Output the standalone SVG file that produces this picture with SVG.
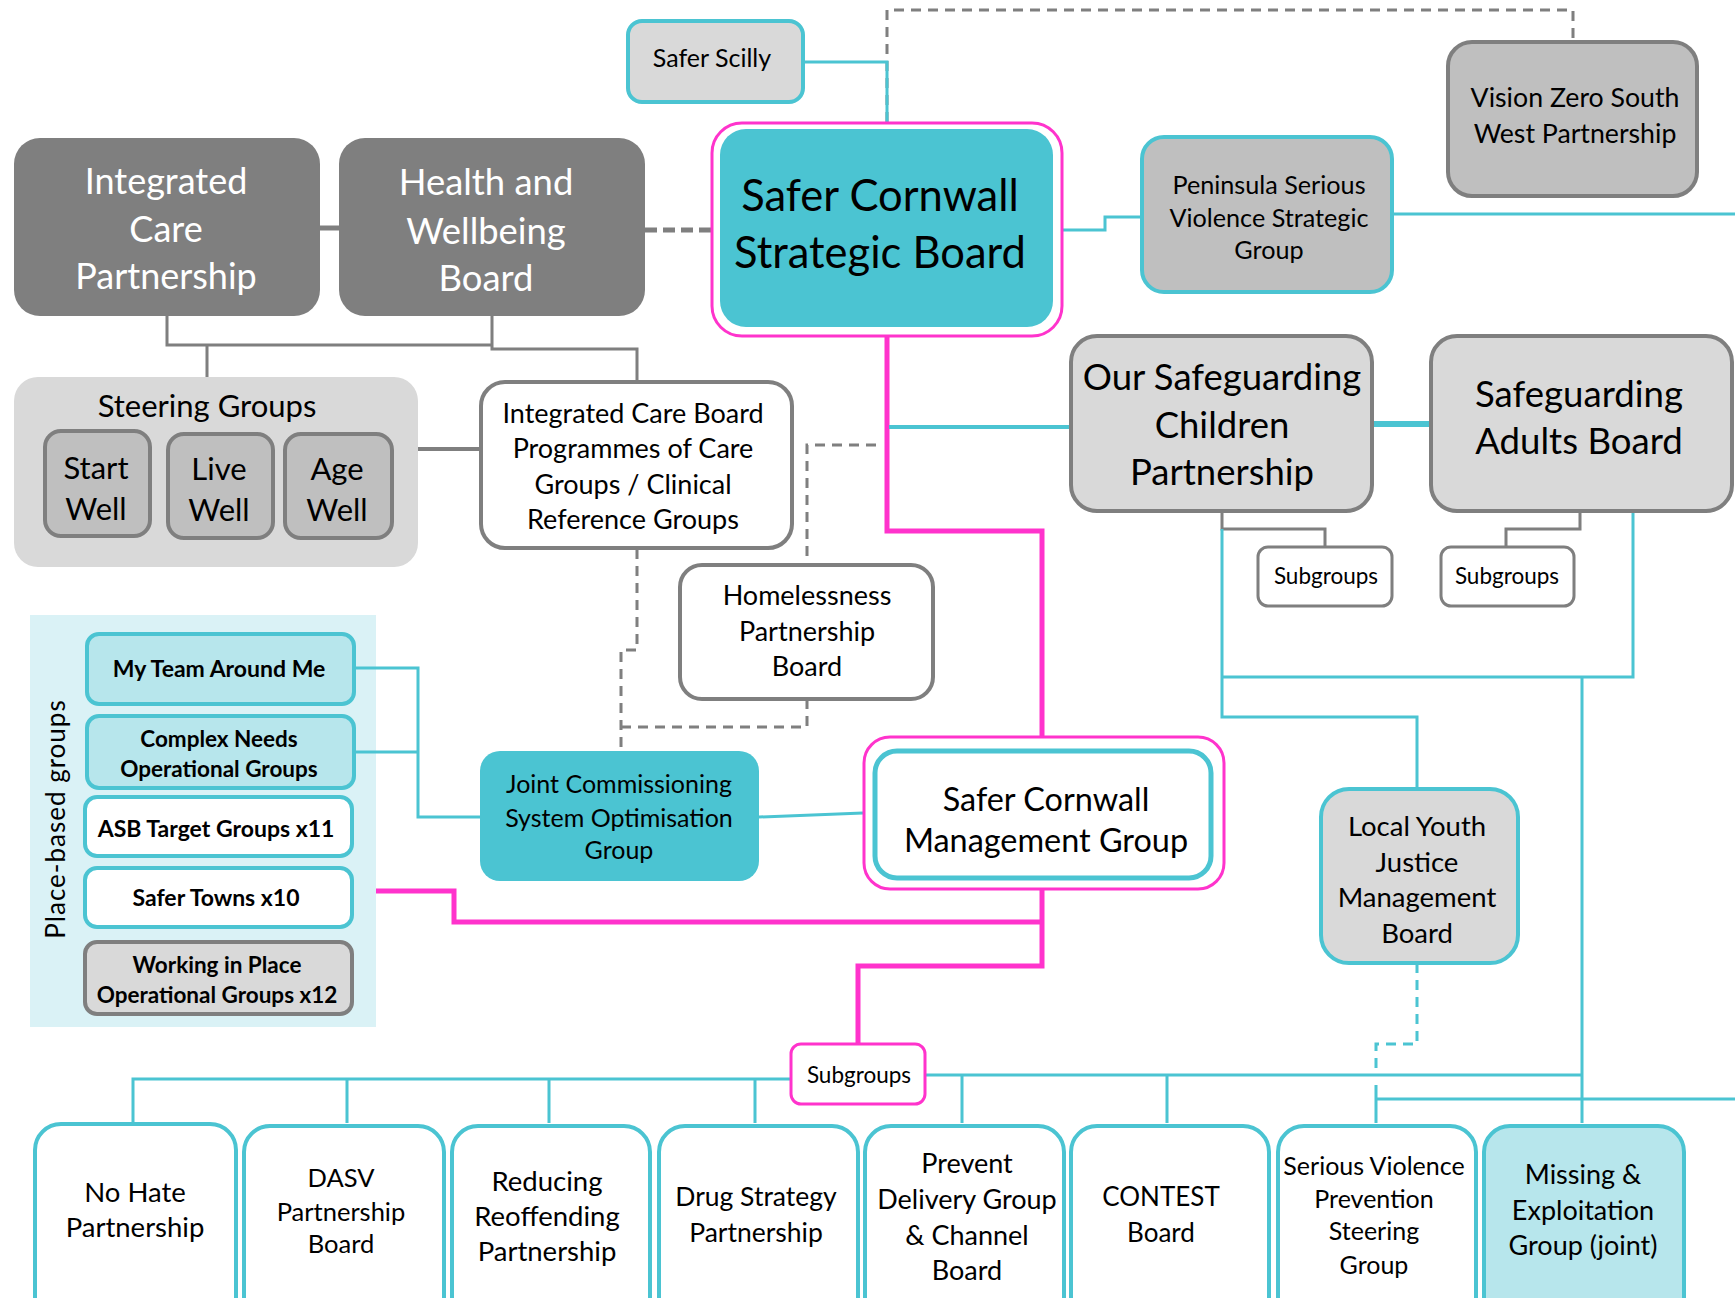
<svg xmlns="http://www.w3.org/2000/svg" width="1735" height="1298" viewBox="0 0 1735 1298">
<style>
text{font-family:Lato,"Open Sans","Liberation Sans",sans-serif;text-anchor:middle;dominant-baseline:central;fill:#000}
.w{fill:#fff}
.b{font-weight:bold}
.teal{stroke:#4bc4d2}
.grey{stroke:#7f7f7f}
.c{fill:none;stroke:#4bc4d2;stroke-width:3}
.cp{fill:none;stroke:#ff33cc;stroke-width:5}
.cg{fill:none;stroke:#7f7f7f;stroke-width:3}
.dg{fill:none;stroke:#7f7f7f;stroke-width:3;stroke-dasharray:10 7}
.dt{fill:none;stroke:#4bc4d2;stroke-width:3;stroke-dasharray:10 7}
</style>
<rect width="1735" height="1298" fill="#fff"/>

<g id="place-based-groups">
  <rect x="30" y="615" width="346" height="412" fill="#daf2f6"/>
  <text x="55" y="819" font-size="26" transform="rotate(-90 55 819)" letter-spacing="1">Place-based groups</text>
</g>

<g id="connectors">
  <path class="dg" d="M887 122 V10 H1573 V41"/>
  <path class="c" d="M804 62 H887 V122"/>
  <path d="M645 230 H711" fill="none" stroke="#7f7f7f" stroke-width="5" stroke-dasharray="12 6"/>
  <path d="M320 228 H339" fill="none" stroke="#7f7f7f" stroke-width="5"/>
  <path class="cg" d="M167 316 V345 H492 M492 316 V349 H637 V381 M207 345 V377"/>
  <path d="M418 449 H480" fill="none" stroke="#7f7f7f" stroke-width="4"/>
  <path class="dg" d="M637 549 V650 H621 V751 M807 699 V727 H621 M876 445 H807 V564"/>
  <path class="c" d="M354 668 H418 V817 H480 M354 752 H418"/>
  <path class="c" d="M759 817 L863 813"/>
  <path class="cp" d="M887 337 V531 H1042 V736"/>
  <path class="cp" d="M1042 890 V966 H858 V1043"/>
  <path class="cp" d="M376 891 H454 V922 H1042"/>
  <path d="M889 427 H1070" fill="none" stroke="#4bc4d2" stroke-width="4"/>
  <path d="M1372 424 H1430" fill="none" stroke="#4bc4d2" stroke-width="6"/>
  <path class="c" d="M1062 230 H1105 V217 H1141"/>
  <path class="c" d="M1392 214 H1735"/>
  <path class="cg" d="M1222 511 V529 H1325 V546 M1580 511 V529 H1506 V546"/>
  <path class="c" d="M1222 529 V717 H1417 V788 M1222 677 H1633 V508 M1582 677 V1123"/>
  <path class="c" d="M925 1075 H1582 M790 1079 H133 V1123"/>
  <path class="c" d="M347 1079 V1123 M549 1079 V1123 M755 1079 V1123 M962 1075 V1123 M1167 1075 V1123"/>
  <path class="dt" d="M1417 963 V1044 H1376 V1075"/>
  <path class="c" d="M1376 1085 V1123 M1376 1099 H1735"/>
</g>

<g id="safer-scilly">
  <rect x="628" y="21" width="175" height="81" rx="14" fill="#d9d9d9" class="teal" stroke-width="4"/>
  <text x="712" y="57" font-size="25">Safer Scilly</text>
</g>

<g id="vision-zero">
  <rect x="1448" y="42" width="249" height="154" rx="24" fill="#bfbfbf" class="grey" stroke-width="4"/>
  <text x="1575" y="97" font-size="26.7">Vision Zero South</text>
  <text x="1575" y="133" font-size="26.7">West Partnership</text>
</g>

<g id="icp">
  <rect x="14" y="138" width="306" height="178" rx="26" fill="#7f7f7f"/>
  <text class="w" x="166" y="180" font-size="36">Integrated</text>
  <text class="w" x="166" y="228" font-size="36">Care</text>
  <text class="w" x="166" y="275" font-size="36">Partnership</text>
</g>

<g id="hwb">
  <rect x="339" y="138" width="306" height="178" rx="26" fill="#7f7f7f"/>
  <text class="w" x="486" y="181" font-size="36.4">Health and</text>
  <text class="w" x="486" y="230" font-size="36.4">Wellbeing</text>
  <text class="w" x="486" y="277" font-size="36.4">Board</text>
</g>

<g id="strategic-board">
  <rect x="712" y="123" width="350" height="213" rx="30" fill="#fff" stroke="#ff33cc" stroke-width="3"/>
  <rect x="720" y="129" width="333" height="198" rx="26" fill="#4bc4d2"/>
  <text x="880" y="194" font-size="43.5">Safer Cornwall</text>
  <text x="880" y="251" font-size="43.5">Strategic Board</text>
</g>

<g id="peninsula">
  <rect x="1142" y="137" width="250" height="155" rx="22" fill="#bfbfbf" class="teal" stroke-width="4"/>
  <text x="1269" y="184" font-size="25.2">Peninsula Serious</text>
  <text x="1269" y="217" font-size="25.2">Violence Strategic</text>
  <text x="1269" y="249" font-size="25.2">Group</text>
</g>

<g id="oscp">
  <rect x="1071" y="336" width="301" height="175" rx="26" fill="#d9d9d9" class="grey" stroke-width="4"/>
  <text x="1222" y="376" font-size="36.5">Our Safeguarding</text>
  <text x="1222" y="424" font-size="36.5">Children</text>
  <text x="1222" y="471" font-size="36.5">Partnership</text>
</g>

<g id="sab">
  <rect x="1431" y="336" width="301" height="175" rx="26" fill="#d9d9d9" class="grey" stroke-width="4"/>
  <text x="1579" y="393" font-size="36.6">Safeguarding</text>
  <text x="1579" y="440" font-size="36.6">Adults Board</text>
</g>

<g id="steering-groups">
  <rect x="14" y="377" width="404" height="190" rx="24" fill="#d9d9d9"/>
  <text x="207" y="405" font-size="31">Steering Groups</text>
</g>
<g id="start-well">
  <rect x="45" y="431" width="105" height="105" rx="16" fill="#bfbfbf" class="grey" stroke-width="4"/>
  <text x="96" y="467" font-size="31">Start</text>
  <text x="96" y="508" font-size="31">Well</text>
</g>
<g id="live-well">
  <rect x="168" y="434" width="105" height="104" rx="16" fill="#bfbfbf" class="grey" stroke-width="4"/>
  <text x="219" y="468" font-size="31">Live</text>
  <text x="219" y="509" font-size="31">Well</text>
</g>
<g id="age-well">
  <rect x="285" y="434" width="107" height="104" rx="16" fill="#bfbfbf" class="grey" stroke-width="4"/>
  <text x="337" y="468" font-size="31">Age</text>
  <text x="337" y="509" font-size="31">Well</text>
</g>

<g id="icb">
  <rect x="481" y="382" width="311" height="166" rx="24" fill="#fff" class="grey" stroke-width="4"/>
  <text x="633" y="412" font-size="27">Integrated Care Board</text>
  <text x="633" y="447" font-size="27">Programmes of Care</text>
  <text x="633" y="483" font-size="27">Groups / Clinical</text>
  <text x="633" y="518" font-size="27">Reference Groups</text>
</g>

<g id="homelessness">
  <rect x="680" y="565" width="253" height="134" rx="22" fill="#fff" class="grey" stroke-width="4"/>
  <text x="807" y="594" font-size="27">Homelessness</text>
  <text x="807" y="630" font-size="27">Partnership</text>
  <text x="807" y="665" font-size="27">Board</text>
</g>

<g id="oscp-subgroups">
  <rect x="1258" y="547" width="134" height="59" rx="10" fill="#fff" class="grey" stroke-width="3"/>
  <text x="1326" y="575" font-size="22.5">Subgroups</text>
</g>
<g id="sab-subgroups">
  <rect x="1441" y="547" width="133" height="59" rx="10" fill="#fff" class="grey" stroke-width="3"/>
  <text x="1507" y="575" font-size="22.5">Subgroups</text>
</g>

<g id="my-team">
  <rect x="87" y="634" width="267" height="70" rx="12" fill="#b7e6ec" class="teal" stroke-width="4"/>
  <text class="b" x="219" y="668" font-size="23">My Team Around Me</text>
</g>
<g id="complex-needs">
  <rect x="87" y="716" width="267" height="72" rx="12" fill="#b7e6ec" class="teal" stroke-width="4"/>
  <text class="b" x="219" y="738" font-size="22.5">Complex Needs</text>
  <text class="b" x="219" y="768" font-size="22.5">Operational Groups</text>
</g>
<g id="asb">
  <rect x="85" y="797" width="267" height="59" rx="12" fill="#fff" class="teal" stroke-width="4"/>
  <text class="b" x="216" y="828" font-size="23">ASB Target Groups x11</text>
</g>
<g id="safer-towns">
  <rect x="85" y="868" width="267" height="59" rx="12" fill="#fff" class="teal" stroke-width="4"/>
  <text class="b" x="216" y="897" font-size="23">Safer Towns x10</text>
</g>
<g id="working-in-place">
  <rect x="85" y="942" width="267" height="72" rx="12" fill="#d9d9d9" class="grey" stroke-width="4"/>
  <text class="b" x="217" y="964" font-size="22.5">Working in Place</text>
  <text class="b" x="217" y="994" font-size="22.5">Operational Groups x12</text>
</g>

<g id="jcsog">
  <rect x="480" y="751" width="279" height="130" rx="20" fill="#4bc4d2"/>
  <text x="619" y="783" font-size="25">Joint Commissioning</text>
  <text x="619" y="817" font-size="25">System Optimisation</text>
  <text x="619" y="849" font-size="25">Group</text>
</g>

<g id="scmg">
  <rect x="864" y="737" width="360" height="152" rx="26" fill="#fff" stroke="#ff33cc" stroke-width="3"/>
  <rect x="875" y="751" width="336" height="127" rx="22" fill="#fff" class="teal" stroke-width="5"/>
  <text x="1046" y="798" font-size="32.4">Safer Cornwall</text>
  <text x="1046" y="839" font-size="32.4">Management Group</text>
</g>

<g id="lyjmb">
  <rect x="1321" y="789" width="197" height="174" rx="28" fill="#d9d9d9" class="teal" stroke-width="4"/>
  <text x="1417" y="825" font-size="27.5">Local Youth</text>
  <text x="1417" y="861" font-size="27.5">Justice</text>
  <text x="1417" y="896" font-size="27.5">Management</text>
  <text x="1417" y="932" font-size="27.5">Board</text>
</g>

<g id="scmg-subgroups">
  <rect x="791" y="1044" width="134" height="60" rx="10" fill="#fff" stroke="#ff33cc" stroke-width="3"/>
  <text x="859" y="1074" font-size="22.5">Subgroups</text>
</g>

<g id="no-hate">
  <rect x="35" y="1124" width="201" height="210" rx="26" fill="#fff" class="teal" stroke-width="4"/>
  <text x="135" y="1191" font-size="27.5">No Hate</text>
  <text x="135" y="1226" font-size="27.5">Partnership</text>
</g>
<g id="dasv">
  <rect x="244" y="1126" width="200" height="210" rx="26" fill="#fff" class="teal" stroke-width="4"/>
  <text x="341" y="1177" font-size="25.5">DASV</text>
  <text x="341" y="1211" font-size="25.5">Partnership</text>
  <text x="341" y="1243" font-size="25.5">Board</text>
</g>
<g id="reducing-reoffending">
  <rect x="452" y="1126" width="198" height="210" rx="26" fill="#fff" class="teal" stroke-width="4"/>
  <text x="547" y="1180" font-size="27.5">Reducing</text>
  <text x="547" y="1215" font-size="27.5">Reoffending</text>
  <text x="547" y="1250" font-size="27.5">Partnership</text>
</g>
<g id="drug-strategy">
  <rect x="659" y="1126" width="199" height="210" rx="26" fill="#fff" class="teal" stroke-width="4"/>
  <text x="756" y="1196" font-size="26.5">Drug Strategy</text>
  <text x="756" y="1232" font-size="26.5">Partnership</text>
</g>
<g id="prevent">
  <rect x="865" y="1126" width="199" height="210" rx="26" fill="#fff" class="teal" stroke-width="4"/>
  <text x="967" y="1162" font-size="27">Prevent</text>
  <text x="967" y="1198" font-size="27">Delivery Group</text>
  <text x="967" y="1234" font-size="27">&amp; Channel</text>
  <text x="967" y="1269" font-size="27">Board</text>
</g>
<g id="contest">
  <rect x="1071" y="1126" width="198" height="210" rx="26" fill="#fff" class="teal" stroke-width="4"/>
  <text x="1161" y="1196" font-size="26">CONTEST</text>
  <text x="1161" y="1232" font-size="26">Board</text>
</g>
<g id="serious-violence">
  <rect x="1278" y="1126" width="198" height="210" rx="26" fill="#fff" class="teal" stroke-width="4"/>
  <text x="1374" y="1165" font-size="25">Serious Violence</text>
  <text x="1374" y="1198" font-size="25">Prevention</text>
  <text x="1374" y="1230" font-size="25">Steering</text>
  <text x="1374" y="1264" font-size="25">Group</text>
</g>
<g id="missing-exploitation">
  <rect x="1484" y="1126" width="200" height="210" rx="26" fill="#b7e6ec" class="teal" stroke-width="4"/>
  <text x="1583" y="1173" font-size="27">Missing &amp;</text>
  <text x="1583" y="1209" font-size="27">Exploitation</text>
  <text x="1583" y="1244" font-size="27">Group (joint)</text>
</g>
</svg>
